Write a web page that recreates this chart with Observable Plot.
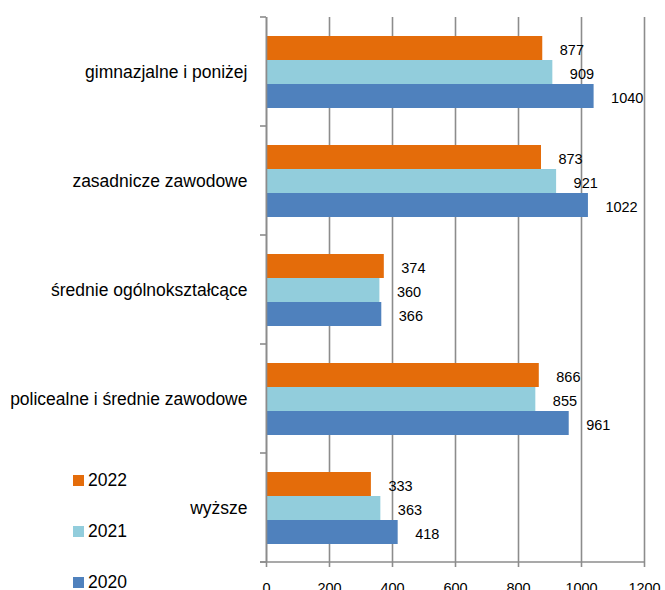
<!DOCTYPE html>
<html><head><meta charset="utf-8">
<script src="https://cdn.jsdelivr.net/npm/d3@7"></script>
<script src="https://cdn.jsdelivr.net/npm/@observablehq/plot@0.6"></script>
<style>
html,body{margin:0;padding:0;overflow:hidden;background:#fff}
#wrap{position:relative;width:665px;height:590px;overflow:hidden}
#legend{position:absolute;left:73px;top:474px;font-family:"Liberation Sans",Arial,sans-serif;font-size:17.5px;color:#000}
.item{position:absolute;left:0;display:flex;align-items:center;height:12px;white-space:nowrap}
.sw{width:11px;height:11px;margin-right:4px;flex:none}
</style></head><body><div id="wrap"><div id="chart"></div><div id="legend"></div></div>
<script>
const categories = ["gimnazjalne i poniżej","zasadnicze zawodowe","średnie ogólnokształcące","policealne i średnie zawodowe","wyższe"];
const years = ["2022","2021","2020"];
const colors = ["#E46C0A","#92CDDC","#4F81BD"];
const values2022 = [877,873,374,866,333];
const values2021 = [909,921,360,855,363];
const values2020 = [1040,1022,366,961,418];
const xTicks = [0,200,400,600,800,1000,1200];

const series = {"2022": values2022, "2021": values2021, "2020": values2020};
const data = [];
categories.forEach((c, i) => years.forEach(y => data.push({category: c, year: y, value: series[y][i]})));

const FONT = '"Liberation Sans",Arial,sans-serif';
const GRID = "#8c8c8c";

const plot = Plot.plot({
  width: 665, height: 600,
  marginTop: 17, marginBottom: 38, marginLeft: 266, marginRight: 21,
  style: {fontFamily: FONT, fontSize: "14.5px", color: "#000", background: "transparent", overflow: "visible"},
  x: {domain: [0, 1200], axis: null},
  y: {domain: years, paddingInner: 0, paddingOuter: 0.77, axis: null},
  fy: {domain: categories, padding: 0, axis: null},
  color: {domain: years, range: colors},
  marks: [
    Plot.gridX(xTicks, {stroke: GRID, strokeOpacity: 1, strokeWidth: 1.6}),
    Plot.barX(data, {x: "value", y: "year", fy: "category", fill: "year"}),
    Plot.text(data, {x: "value", y: "year", fy: "category", text: d => String(d.value), textAnchor: "start", dx: 17, dy: 2, fontSize: 14.5, fill: "#000"}),
    Plot.ruleX([0], {stroke: GRID, strokeWidth: 1.6}),
    Plot.axisFy({anchor: "left", tickSize: 0, tickPadding: 19, fontSize: 17.5, label: null}),
    Plot.axisX({anchor: "bottom", ticks: xTicks, tickSize: 5, tickPadding: 15, fontSize: 14.5, label: null, stroke: GRID, strokeWidth: 1.6, tickFormat: d => String(d)})
  ]
});
document.getElementById("chart").appendChild(plot);

// boundary ticks on the category axis and baseline, placed with the plot's own scales
const fy = plot.scale("fy");
const xs = plot.scale("x");
const svg = d3.select(plot);
const x0 = xs.apply(0), x1 = xs.apply(1200);
const bounds = categories.map(c => fy.apply(c));
bounds.push(fy.apply(categories[categories.length - 1]) + fy.bandwidth);
const g = svg.append("g").attr("stroke", GRID).attr("stroke-width", 1.6);
bounds.forEach(b => g.append("line").attr("x1", x0 - 6).attr("x2", x0).attr("y1", b).attr("y2", b));
const yb = bounds[bounds.length - 1];
g.append("line").attr("x1", x0 - 6).attr("x2", x1).attr("y1", yb).attr("y2", yb);

// legend
const lg = document.getElementById("legend");
years.forEach((y, i) => {
  const it = document.createElement("div");
  it.className = "item";
  it.style.top = (i * 51) + "px";
  const sw = document.createElement("div");
  sw.className = "sw";
  sw.style.background = colors[i];
  const t = document.createElement("span");
  t.textContent = y;
  it.appendChild(sw); it.appendChild(t);
  lg.appendChild(it);
});
</script></body></html>
